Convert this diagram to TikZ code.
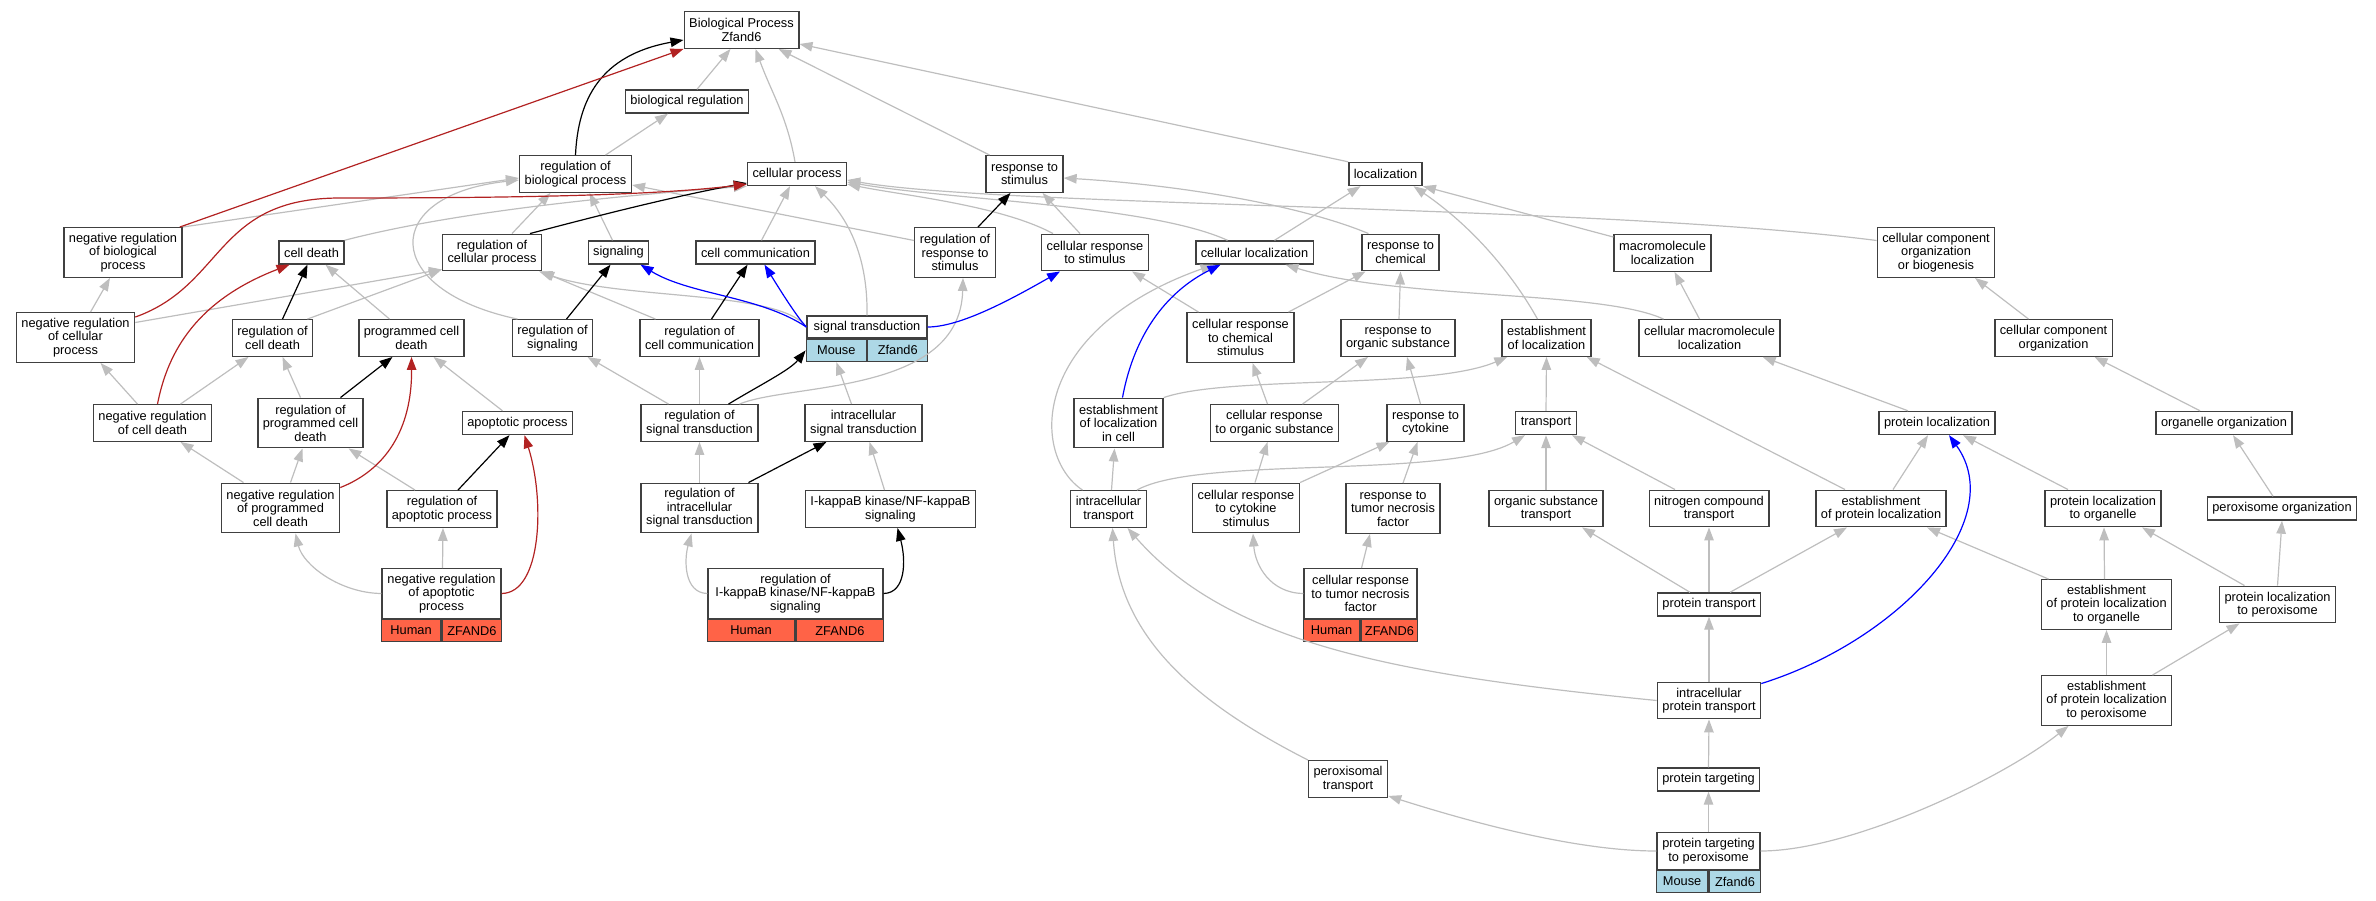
\documentclass[tikz,border=0pt]{standalone}
\usepackage{fontspec}
\setmainfont{Liberation Sans}
\usetikzlibrary{arrows.meta}
\definecolor{isagray}{RGB}{190,190,190}
\definecolor{negred}{RGB}{178,34,34}
\definecolor{partblue}{RGB}{0,0,255}
\definecolor{humanred}{RGB}{255,99,71}
\definecolor{mouseblue}{RGB}{173,216,230}
\newcommand\gofont{\fontsize{12.8pt}{13.5pt}\selectfont}
\begin{document}
\begin{tikzpicture}[x=1pt, y=1pt,
    term/.style={draw=black!75, line width=1.4pt, fill=white, align=center, font=\gofont,
      inner xsep=5pt, inner ysep=1pt, minimum height=23pt},
    two/.style={term, minimum height=36.5pt},
    three/.style={term, minimum height=49.5pt},
    species/.style={draw=black!75, line width=1.4pt, font=\gofont, inner sep=1pt, minimum height=22pt},
    human/.style={species, fill=humanred},
    mouse/.style={species, fill=mouseblue},
    isa/.style={draw=isagray, line width=1.2pt, -{Triangle[length=13pt,width=9.5pt]}},
    regul/.style={isa, draw=black},
    negregul/.style={isa, draw=negred},
    partof/.style={isa, draw=partblue}]
  \useasboundingbox (0,0) rectangle (2376,-901);

  \node[two] (root) at (741.5,-30) {Biological Process\\Zfand6};
  \node[term] (bioreg) at (687,-101.5) {biological regulation};
  \node[two] (regbio) at (575.5,-174) {regulation of\\biological process};
  \node[term] (cellproc) at (797,-174) {cellular process};
  \node[two] (resp) at (1024.5,-174) {response to\\stimulus};
  \node[term] (loc) at (1385.5,-174) {localization};

  \node[three] (negbio) at (123,-252.5) {negative regulation\\of biological\\process};
  \node[term] (celldeath) at (311.5,-252.5) {cell death};
  \node[two] (regcell) at (492,-252.5) {regulation of\\cellular process};
  \node[term] (signaling) at (618.5,-252.5) {signaling};
  \node[term] (cellcomm) at (755.5,-252.5) {cell communication};
  \node[three] (regresp) at (955,-252.5) {regulation of\\response to\\stimulus};
  \node[two] (cellresp) at (1095,-252.5) {cellular response\\to stimulus};
  \node[term] (cellloc) at (1254.5,-252.5) {cellular localization};
  \node[two] (respchem) at (1400.5,-252.5) {response to\\chemical};
  \node[two] (macroloc) at (1662.5,-253) {macromolecule\\localization};
  \node[three] (ccob) at (1936,-252.5) {cellular component\\organization\\or biogenesis};

  \node[three] (negcell) at (75.5,-337.5) {negative regulation\\of cellular\\process};
  \node[two] (regcd) at (272.5,-338) {regulation of\\cell death};
  \node[two] (pcd) at (411.5,-338) {programmed cell\\death};
  \node[two] (regsig) at (552.5,-338) {regulation of\\signaling};
  \node[two] (regcc) at (699.5,-338) {regulation of\\cell communication};
  \node[term, minimum width=120pt, minimum height=22pt] (sigtrans) at (867,-327) {signal transduction};
  \node[mouse, anchor=north east, minimum width=60pt] (sigtrans-l) at (sigtrans.south) {Mouse};
  \node[mouse, anchor=north west, minimum width=60pt] (sigtrans-r) at (sigtrans.south) {Zfand6};
  \node[three] (crcs) at (1240.5,-337.5) {cellular response\\to chemical\\stimulus};
  \node[two] (resporg) at (1398,-338) {response to\\organic substance};
  \node[two] (estloc) at (1546.5,-338) {establishment\\of localization};
  \node[two] (cmacroloc) at (1709.5,-338) {cellular macromolecule\\localization};
  \node[two] (ccorg) at (2053.5,-338) {cellular component\\organization};

  \node[two] (negcd) at (152.5,-423) {negative regulation\\of cell death};
  \node[three] (regpcd) at (310.5,-423) {regulation of\\programmed cell\\death};
  \node[term] (apop) at (517.5,-423) {apoptotic process};
  \node[two] (regst) at (699.5,-423) {regulation of\\signal transduction};
  \node[two] (intrast) at (863.5,-423) {intracellular\\signal transduction};
  \node[three] (estloccell) at (1118.5,-423) {establishment\\of localization\\in cell};
  \node[two] (crorg) at (1274.5,-423) {cellular response\\to organic substance};
  \node[two] (respcyt) at (1425.5,-423) {response to\\cytokine};
  \node[term] (transport) at (1546,-423) {transport};
  \node[term] (protloc) at (1937,-423) {protein localization};
  \node[term] (orgorg) at (2224,-423) {organelle organization};

  \node[three] (negpcd) at (280.5,-508) {negative regulation\\of programmed\\cell death};
  \node[two] (regapo) at (442,-509) {regulation of\\apoptotic process};
  \node[three] (regist) at (699.5,-508) {regulation of\\intracellular\\signal transduction};
  \node[two] (ikk) at (890.5,-509) {I-kappaB kinase/NF-kappaB\\signaling};
  \node[two] (intratrans) at (1108.5,-509) {intracellular\\transport};
  \node[three] (crcyt) at (1246,-508) {cellular response\\to cytokine\\stimulus};
  \node[three] (resptnf) at (1393,-508.5) {response to\\tumor necrosis\\factor};
  \node[two] (orgtrans) at (1546,-508.5) {organic substance\\transport};
  \node[two] (nitrotrans) at (1709,-508.5) {nitrogen compound\\transport};
  \node[two] (estprotloc) at (1881,-508.5) {establishment\\of protein localization};
  \node[two] (plorg) at (2103,-508.5) {protein localization\\to organelle};
  \node[term] (peroorg) at (2282,-508.5) {peroxisome organization};

  \node[three, minimum width=119pt] (negapo) at (441.5,-593.5) {negative regulation\\of apoptotic\\process};
  \node[human, anchor=north east, minimum width=59.5pt] (negapo-l) at (negapo.south) {Human};
  \node[human, anchor=north west, minimum width=59.5pt] (negapo-r) at (negapo.south) {ZFAND6};
  \node[three, minimum width=175pt] (regikk) at (795.5,-593.5) {regulation of\\I-kappaB kinase/NF-kappaB\\signaling};
  \node[human, anchor=north east, minimum width=87.5pt] (regikk-l) at (regikk.south) {Human};
  \node[human, anchor=north west, minimum width=87.5pt] (regikk-r) at (regikk.south) {ZFAND6};
  \node[three, minimum width=113pt] (crtnf) at (1360.5,-593.5) {cellular response\\to tumor necrosis\\factor};
  \node[human, anchor=north east, minimum width=56.5pt] (crtnf-l) at (crtnf.south) {Human};
  \node[human, anchor=north west, minimum width=56.5pt] (crtnf-r) at (crtnf.south) {ZFAND6};
  \node[term] (protrans) at (1709,-604.5) {protein transport};
  \node[three] (eplorg) at (2106.5,-604.5) {establishment\\of protein localization\\to organelle};
  \node[two] (plpero) at (2277.5,-604.5) {protein localization\\to peroxisome};

  \node[two] (intraprot) at (1709,-700.5) {intracellular\\protein transport};
  \node[three] (eplpero) at (2106.5,-700.5) {establishment\\of protein localization\\to peroxisome};
  \node[two] (perotrans) at (1348,-779) {peroxisomal\\transport};
  \node[term] (prottarg) at (1708.5,-779.5) {protein targeting};
  \node[two, minimum width=103pt] (ptpero) at (1708.5,-851) {protein targeting\\to peroxisome};
  \node[mouse, anchor=north east, minimum width=51.5pt] (ptpero-l) at (ptpero.south) {Mouse};
  \node[mouse, anchor=north west, minimum width=51.5pt] (ptpero-r) at (ptpero.south) {Zfand6};

  \draw[isa] ([xshift=10pt]bioreg.north) -- ([xshift=-11pt]root.south);
  \draw[isa] ([xshift=-2pt]cellproc.north) to[out=100,in=-70] ([xshift=14pt]root.south);
  \draw[isa] ([xshift=-35pt]resp.north) -- ([xshift=37pt]root.south);
  \draw[isa] (loc.north west) -- ([yshift=-14pt]root.east);
  \draw[isa] ([xshift=30pt]regbio.north) -- ([xshift=-19pt]bioreg.south);
  \draw[isa] (negbio.north east) -- ([yshift=-4pt]regbio.west);
  \draw[isa] ([xshift=-35pt]regsig.north) .. controls (380,-290) and (380,-195) .. ([yshift=-6pt]regbio.west);
  \draw[isa] ([xshift=20pt]regcell.north) -- ([xshift=-25pt]regbio.south);
  \draw[isa] ([xshift=-6pt]signaling.north) -- ([xshift=14pt]regbio.south);
  \draw[isa] ([yshift=12pt]regresp.west) -- ([yshift=-11pt]regbio.east);
  \draw[isa] (celldeath.north east) .. controls (430,-218) and (560,-200) .. (cellproc.south west);
  \draw[isa] ([xshift=6pt]cellcomm.north) -- ([xshift=-7pt]cellproc.south);
  \draw[isa] (sigtrans.north) .. controls (868,-260) and (850,-220) .. ([xshift=18pt]cellproc.south);
  \draw[isa] ([xshift=-42pt]cellresp.north) .. controls (1000,-205) and (900,-195) .. ([yshift=-10pt]cellproc.east);
  \draw[isa] ([xshift=-27pt]cellloc.north) .. controls (1150,-205) and (950,-200) .. ([yshift=-8pt]cellproc.east);
  \draw[isa] ([yshift=12pt]ccob.west) .. controls (1600,-205) and (1000,-207) .. ([yshift=-6pt]cellproc.east);
  \draw[isa] ([xshift=15pt]negcell.north) -- ([xshift=-13pt]negbio.south);
  \draw[isa] ([yshift=15pt]negcell.east) -- ([yshift=2pt]regcell.south west);
  \draw[isa] ([xshift=-6pt]regcd.north east) -- ([yshift=2pt]regcell.south west);
  \draw[isa] (sigtrans.west) .. controls (780,-290) and (620,-300) .. ([xshift=-3pt]regcell.south east);
  \draw[isa] ([xshift=-44pt]regcc.north) -- ([xshift=-1pt]regcell.south east);
  \draw[isa] ([xshift=-22pt]pcd.north) -- ([xshift=14pt]celldeath.south);
  \draw[isa] ([xshift=-15pt]negcd.north) -- ([xshift=25pt]negcell.south);
  \draw[isa] ([xshift=28pt]negcd.north) -- ([xshift=-24pt]regcd.south);
  \draw[isa] ([xshift=-10pt]regpcd.north) -- ([xshift=10pt]regcd.south);
  \draw[isa] ([xshift=-15pt]apop.north) -- ([xshift=22pt]pcd.south);
  \draw[isa] ([xshift=-37pt]negpcd.north) -- ([xshift=28pt]negcd.south);
  \draw[isa] ([xshift=10pt]negpcd.north) -- ([xshift=-8pt]regpcd.south);
  \draw[isa] ([xshift=-27pt]regapo.north) -- ([xshift=38pt]regpcd.south);
  \draw[isa] (negapo.west) .. controls (340,-593) and (303,-565) .. ([xshift=15pt]negpcd.south);
  \draw[isa] ([xshift=1pt]negapo.north) -- ([xshift=1pt]regapo.south);
  \draw[isa] ([xshift=-31pt]regst.north) -- ([xshift=35pt]regsig.south);
  \draw[isa] (regst.north) -- (regcc.south);
  \draw[isa] ([xshift=40pt]regst.north) .. controls (790,-383) and (960,-395) .. ([xshift=8pt]regresp.south);
  \draw[isa] ([xshift=-12pt]intrast.north) -- (sigtrans-l.south);
  \draw[isa] (regist.north) -- (regst.south);
  \draw[isa] ([xshift=-6pt]ikk.north) -- ([xshift=6pt]intrast.south);
  \draw[isa] (regikk.west) .. controls (684,-593) and (684,-560) .. ([xshift=-8pt]regist.south);
  \draw[isa] ([xshift=-15pt]cellresp.north) -- ([xshift=18pt]resp.south);
  \draw[isa] ([xshift=-32pt]respchem.north) .. controls (1300,-205) and (1180,-185) .. ([yshift=-4pt]resp.east);
  \draw[isa] ([xshift=20pt]cellloc.north) -- ([xshift=-25pt]loc.south);
  \draw[isa] ([yshift=-3pt]macroloc.north west) -- (loc.south east);
  \draw[isa] ([xshift=-9pt]estloc.north) .. controls (1510,-270) and (1470,-225) .. ([xshift=28pt]loc.south);
  \draw[isa] ([xshift=-26pt]intratrans.north) .. controls (1030,-455) and (1030,-330) .. ([xshift=-41pt]cellloc.south);
  \draw[isa] ([xshift=-46pt]cmacroloc.north) .. controls (1600,-290) and (1400,-300) .. ([xshift=31pt]cellloc.south);
  \draw[isa] ([xshift=-42pt]crcs.north) -- ([xshift=37pt]cellresp.south);
  \draw[isa] ([xshift=48pt]crcs.north) -- ([xshift=-35pt]respchem.south);
  \draw[isa] ([xshift=1pt]resporg.north) -- (respchem.south);
  \draw[isa] ([xshift=-7pt]crorg.north) -- ([xshift=12pt]crcs.south);
  \draw[isa] ([xshift=28pt]crorg.north) -- ([xshift=-30pt]resporg.south);
  \draw[isa] ([xshift=-5pt]respcyt.north) -- ([xshift=9pt]resporg.south);
  \draw[isa] ([xshift=9pt]crcyt.north) -- ([xshift=-7pt]crorg.south);
  \draw[isa] (crcyt.north east) -- ([xshift=-36pt]respcyt.south);
  \draw[isa] ([xshift=10pt]resptnf.north) -- ([xshift=-8pt]respcyt.south);
  \draw[isa] (crtnf.west) .. controls (1270,-593) and (1255,-565) .. ([xshift=7pt]crcyt.south);
  \draw[isa] ([xshift=1pt]crtnf.north) -- ([xshift=-23pt]resptnf.south);
  \draw[isa] (estloccell.north east) .. controls (1230,-375) and (1430,-390) .. ([xshift=6pt]estloc.south west);
  \draw[isa] (transport.north) -- (estloc.south);
  \draw[isa] ([xshift=-36pt]estprotloc.north) -- ([xshift=-5pt]estloc.south east);
  \draw[isa] ([xshift=3pt]intratrans.north) -- ([xshift=-4pt]estloccell.south);
  \draw[isa] ([xshift=-10pt]intratrans.north east) .. controls (1200,-455) and (1450,-480) .. ([xshift=-21pt]transport.south);
  \draw[isa] (orgtrans.north) -- (transport.south);
  \draw[isa] ([xshift=-34pt]nitrotrans.north) -- ([xshift=-5pt]transport.south east);
  \draw[isa] ([xshift=-19pt]protrans.north) -- ([xshift=36pt]orgtrans.south);
  \draw[isa] (protrans.north) -- (nitrotrans.south);
  \draw[isa] ([xshift=21pt]protrans.north) -- ([xshift=-34pt]estprotloc.south);
  \draw[isa] (intraprot.north) -- (protrans.south);
  \draw[isa] (intraprot.west) .. controls (1400,-675) and (1230,-645) .. ([xshift=19pt]intratrans.south);
  \draw[isa] (prottarg.north) -- (intraprot.south);
  \draw[isa] (ptpero.north) -- (prottarg.south);
  \draw[isa] (ptpero.west) .. controls (1580,-851) and (1480,-825) .. ([yshift=2pt]perotrans.south east);
  \draw[isa] (ptpero.east) .. controls (1850,-851) and (2000,-780) .. ([xshift=-38pt]eplpero.south);
  \draw[isa] ([xshift=-40pt]perotrans.north) .. controls (1200,-705) and (1120,-640) .. ([xshift=4pt]intratrans.south);
  \draw[isa] ([xshift=-10pt]cmacroloc.north) -- ([xshift=12pt]macroloc.south);
  \draw[isa] ([xshift=-29pt]protloc.north) -- ([xshift=-18pt]cmacroloc.south east);
  \draw[isa] ([xshift=12pt]estprotloc.north) -- ([xshift=-9pt]protloc.south);
  \draw[isa] ([xshift=-35pt]plorg.north) -- ([xshift=26pt]protloc.south);
  \draw[isa] ([xshift=-58pt]eplorg.north) -- ([xshift=46pt]estprotloc.south);
  \draw[isa] ([xshift=-2pt]eplorg.north) -- ([xshift=1pt]plorg.south);
  \draw[isa] ([xshift=-33pt]plpero.north) -- ([xshift=39pt]plorg.south);
  \draw[isa] (plpero.north) -- (peroorg.south);
  \draw[isa] ([xshift=-9pt]peroorg.north) -- ([xshift=9pt]orgorg.south);
  \draw[isa] ([xshift=-24pt]orgorg.north) -- ([xshift=41pt]ccorg.south);
  \draw[isa] ([xshift=-25pt]ccorg.north) -- ([xshift=39pt]ccob.south);
  \draw[isa] (eplpero.north) -- (eplorg.south);
  \draw[isa] ([xshift=46pt]eplpero.north) -- ([xshift=-38pt]plpero.south);

  \draw[regul] (regbio.north) .. controls (578,-100) and (600,-55) .. ([yshift=-10pt]root.west);
  \draw[regul] ([xshift=38pt]regcell.north) .. controls (600,-215) and (680,-195) .. ([yshift=-9pt]cellproc.west);
  \draw[regul] ([xshift=10pt]regcd.north) -- ([xshift=-4pt]celldeath.south);
  \draw[regul] ([xshift=30pt]regpcd.north) -- ([xshift=-19pt]pcd.south);
  \draw[regul] ([xshift=16pt]regapo.north) -- ([xshift=-8pt]apop.south);
  \draw[regul] ([xshift=14pt]regsig.north) -- ([xshift=-8pt]signaling.south);
  \draw[regul] ([xshift=12pt]regcc.north) -- ([xshift=-8pt]cellcomm.south);
  \draw[regul] ([xshift=29pt]regst.north) .. controls (760,-385) and (790,-370) .. (sigtrans-l.west);
  \draw[regul] ([xshift=49pt]regist.north) -- ([xshift=-37pt]intrast.south);
  \draw[regul] (regikk.east) .. controls (906,-593) and (906,-560) .. ([xshift=7pt]ikk.south);
  \draw[regul] ([xshift=23pt]regresp.north) -- ([xshift=-14pt]resp.south);

  \draw[negregul] ([xshift=-3pt]negbio.north east) -- (root.south west);
  \draw[negregul] ([yshift=-5pt]negcell.north east) .. controls (225,-285) and (215,-198) .. (340,-198)
    .. controls (500,-198) and (650,-196) .. ([yshift=2pt]cellproc.south west);
  \draw[negregul] ([xshift=5pt]negcd.north) .. controls (168,-350) and (198,-300) .. ([xshift=-22pt]celldeath.south);
  \draw[negregul] ([yshift=-5pt]negpcd.north east) .. controls (385,-470) and (412,-430) .. (pcd.south);
  \draw[negregul] (negapo.east) .. controls (542,-593) and (545,-500) .. ([xshift=7pt]apop.south);

  \draw[partof] (sigtrans.west) .. controls (760,-296) and (690,-295) .. ([xshift=22pt]signaling.south);
  \draw[partof] (sigtrans.west) .. controls (797,-317) and (780,-290) .. ([xshift=9pt]cellcomm.south);
  \draw[partof] (sigtrans.east) .. controls (960,-327) and (1010,-300) .. ([xshift=-35pt]cellresp.south);
  \draw[partof] ([xshift=4pt]estloccell.north) .. controls (1135,-330) and (1170,-290) .. ([xshift=-34pt]cellloc.south);
  \draw[partof] ([yshift=-2pt]intraprot.north east) .. controls (1900,-640) and (2010,-520) .. ([xshift=12pt]protloc.south);
\end{tikzpicture}
\end{document}
